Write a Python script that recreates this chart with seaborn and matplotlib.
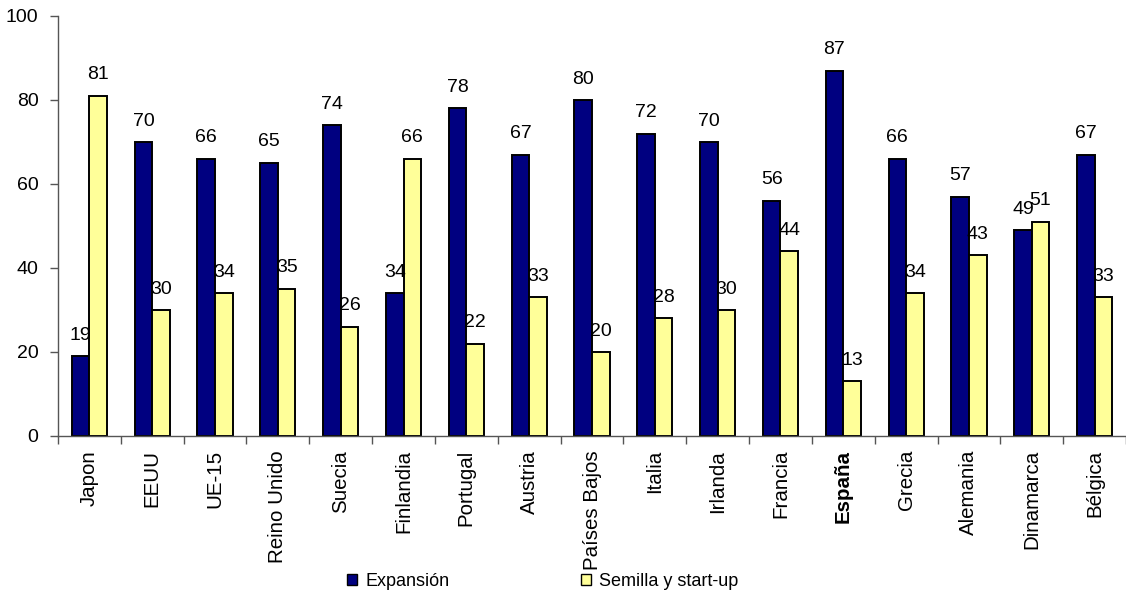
import matplotlib
matplotlib.use("Agg")
import matplotlib.pyplot as plt
from matplotlib.ticker import FixedLocator, MultipleLocator
from matplotlib.patches import Patch
import seaborn as sns
import pandas as pd

# Country categories
paises = ["Japon", "EEUU", "UE-15", "Reino Unido", "Suecia", "Finlandia",
          "Portugal", "Austria", "Países Bajos", "Italia", "Irlanda",
          "Francia", "España", "Grecia", "Alemania", "Dinamarca", "Bélgica"]
# Share of investment by stage (%)
expansion = [19, 70, 66, 65, 74, 34, 78, 67, 80, 72, 70, 56, 87, 66, 57, 49, 67]
semilla = [81, 30, 34, 35, 26, 66, 22, 33, 20, 28, 30, 44, 13, 34, 43, 51, 33]
series = ["Expansión", "Semilla y start-up"]
colores = ["#000080", "#FFFF99"]

df = pd.DataFrame({
    "pais": paises * 2,
    "valor": expansion + semilla,
    "serie": [series[0]] * len(paises) + [series[1]] * len(paises),
})

sns.set_style("white")
plt.rcParams["font.family"] = ["Liberation Sans", "DejaVu Sans"]
plt.rcParams["text.color"] = "black"
plt.rcParams["xtick.labelcolor"] = "black"
plt.rcParams["ytick.labelcolor"] = "black"

fig = plt.figure(figsize=(11.26, 5.94), dpi=100)
ax = fig.add_axes([58 / 1126, 1 - 436 / 594, 1 - 58 / 1126, (436 - 16) / 594])

sns.barplot(data=df, x="pais", y="valor", hue="serie", order=paises,
            hue_order=series, palette=colores, edgecolor="black",
            linewidth=1.4, width=0.56, saturation=1, ax=ax, legend=False)

# Value labels above each bar
for cont in ax.containers:
    ax.bar_label(cont, fmt="%d", padding=9, fontsize=14, color="black")

ax.set_xlim(-0.5, len(paises) - 0.5)
ax.set_ylim(0, 100)
ax.yaxis.set_major_locator(MultipleLocator(20))
ax.set_xlabel("")
ax.set_ylabel("")

# Category labels at centres, tick marks between categories
ax.set_xticks(range(len(paises)))
ax.set_xticklabels(paises, rotation=90, fontsize=14.8, color="black")
ax.tick_params(axis="x", which="major", length=0, pad=10)
ax.xaxis.set_minor_locator(FixedLocator([i - 0.5 for i in range(len(paises) + 1)]))
ax.tick_params(axis="x", which="minor", length=6, width=1, color="#555555",
               direction="out", bottom=True)
ax.tick_params(axis="y", length=6, width=1, color="#555555", direction="out",
               left=True, labelsize=14, labelcolor="black", pad=8)
for lbl in ax.get_xticklabels():
    if lbl.get_text() == "España":
        lbl.set_fontweight("bold")

for side in ["top", "right"]:
    ax.spines[side].set_visible(False)
for side in ["left", "bottom"]:
    ax.spines[side].set_color("#555555")
    ax.spines[side].set_linewidth(1)

handles = [Patch(facecolor=c, edgecolor="black", linewidth=1) for c in colores]
fig.legend(handles, series, loc="center", bbox_to_anchor=(543 / 1126, 1 - 581 / 594),
           ncol=2, frameon=False, fontsize=13, handlelength=0.55,
           handleheight=0.55, handletextpad=0.45, columnspacing=7.3,
           labelcolor="black")

fig.savefig("out.png", dpi=100)
